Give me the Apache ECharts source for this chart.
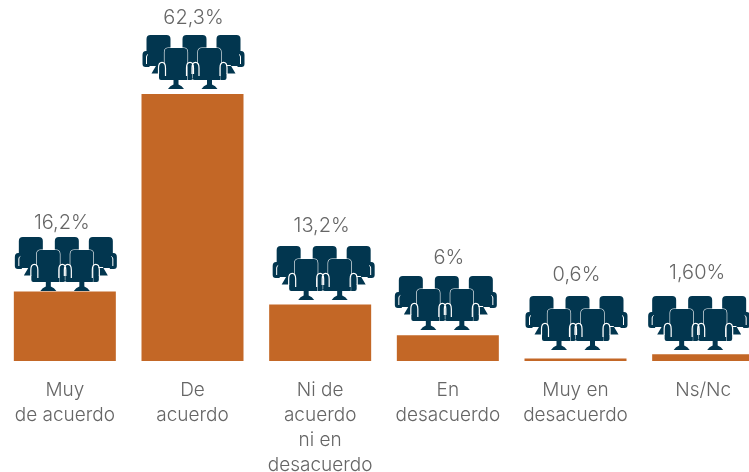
<!DOCTYPE html>
<html><head><meta charset="utf-8">
<script src="https://cdn.jsdelivr.net/npm/echarts@6/dist/echarts.min.js"></script>
<style>html,body{margin:0;padding:0;background:#fff}#c{width:749px;height:472px}</style>
</head><body><div id="c"></div>
<script>
const categories = ['Muy\nde acuerdo','De\nacuerdo','Ni de\nacuerdo\nni en\ndesacuerdo','En\ndesacuerdo','Muy en\ndesacuerdo','Ns/Nc'];
const values = [16.2, 62.3, 13.2, 6, 0.6, 1.6];
const valueLabels = ['16,2%','62,3%','13,2%','6%','0,6%','1,60%'];

// layout of the decorations, relative to each bar's foot on the axis
const iconDx = [1, 1, 3.5, -2, 1, -4];
const iconLift = [70, 272, 61, 31, 11, 11];
const labelDx = [-3, 1, 1.5, 1, 1, -6];
const labelLift = [139, 344, 136, 104, 87, 89];
const ICON_W = 102, ICON_H = 54;
const FONT = 'Inter';

const box = 'M0 0L0 0M102 54L102 54';
const backChairs = box +
  'M8 0H24Q28 0 28 4V31H8Q4 31 4 27V4Q4 0 8 0Z' +
  'M44 0H60Q64 0 64 4V31H40V4Q40 0 44 0Z' +
  'M78 0H94Q98 0 98 4V27Q98 31 94 31H74V4Q74 0 78 0Z' +
  'M0 20Q0 16 3.500 16Q7 16 7 20V32H3Q0 32 0 29Z' +
  'M95 20Q95 16 98.500 16Q102 16 102 20V29Q102 32 99 32H95Z' +
  'M9 38.500L14 30H24V38.500Z M93 38.500L88 30H78V38.500Z';
const backArmLines = box + 'M4 29V22Q4 20 5.500 19.500M98 29V22Q98 20 96.500 19.500';
function frontBody(c){
  return `M${c-7.500} 13H${c+7.500}Q${c+11.500} 13 ${c+11.500} 17V45H${c-11.500}V17Q${c-11.500} 13 ${c-7.500} 13Z`;
}
function frontArms(c){
  return `M${c-17} 42V33Q${c-17} 28 ${c-14} 28Q${c-11} 28 ${c-11} 33V45H${c-15}Q${c-17} 45 ${c-17} 43Z` +
         `M${c+17} 42V33Q${c+17} 28 ${c+14} 28Q${c+11} 28 ${c+11} 33V45H${c+15}Q${c+17} 45 ${c+17} 43Z`;
}
function foot(c){
  return `M${c-2.500} 44H${c+2.500}V49.500Q${c+6} 50.500 ${c+8} 54H${c-8}Q${c-6} 50.500 ${c-2.500} 49.500Z`;
}
const frontCentres = [33.500, 67];
const frontChairs = box + frontCentres.map(frontBody).join('');
const frontFill = box + frontCentres.map(c => frontBody(c) + foot(c) + frontArms(c)).join('');
const archLines = box + frontCentres.map(c =>
  `M${c-17.500} 39V33Q${c-17.500} 27.300 ${c-14} 27.300Q${c-10.500} 27.300 ${c-10.500} 33V41` +
  `M${c+17.500} 39V33Q${c+17.500} 27.300 ${c+14} 27.300Q${c+10.500} 27.300 ${c+10.500} 33V41`).join('');

const DARK = '#02364f', WHITE = '#ffffff';

function renderDeco(params, api){
  const i = api.value(0);
  const foot0 = api.coord([i, 0]);
  const x = foot0[0] + iconDx[i] - ICON_W/2;
  const y = foot0[1] - iconLift[i] - ICON_H;
  const rect = {x, y, width: ICON_W, height: ICON_H, layout: 'cover'};
  const p = (d, style) => ({type:'path', shape:Object.assign({pathData:d}, rect), style});
  return {type:'group', children:[
    p(backChairs, {fill:DARK}),
    p(backArmLines, {fill:null, stroke:WHITE, lineWidth:1}),
    p(frontChairs, {fill:DARK, stroke:WHITE, lineWidth:1.2}),
    p(frontFill, {fill:DARK}),
    p(archLines, {fill:null, stroke:WHITE, lineWidth:1.2}),
    {type:'text', style:{
      x: foot0[0] + labelDx[i], y: foot0[1] - labelLift[i] + 1,
      text: valueLabels[i], fill:'#666666',
      font: `300 20px ${FONT}`, align:'center', verticalAlign:'middle'
    }}
  ]};
}

const chart = echarts.init(document.getElementById('c'), null, {renderer:'canvas'});
chart.setOption({
  animation:false,
  backgroundColor:'#ffffff',
  grid:{left:1, top:0, width:766, height:361, outerBoundsMode:'none', containLabel:false},
  xAxis:{type:'category', data:categories,
    axisLine:{show:false}, axisTick:{show:false},
    axisLabel:{interval:0, margin:17, color:'#666666', fontFamily:FONT, fontWeight:300, fontSize:19, lineHeight:25, verticalAlign:'top', hideOverlap:false}},
  yAxis:{type:'value', min:0, max:361/(267/62.3), show:false, splitLine:{show:false}},
  series:[
    {type:'bar', data:values, barWidth:102, itemStyle:{color:'#c36726'}, silent:true},
    {type:'custom', data:values.map((v,i)=>[i,v]), encode:{x:0,y:1}, renderItem:renderDeco, silent:true, clip:false}
  ]
});
</script></body></html>
